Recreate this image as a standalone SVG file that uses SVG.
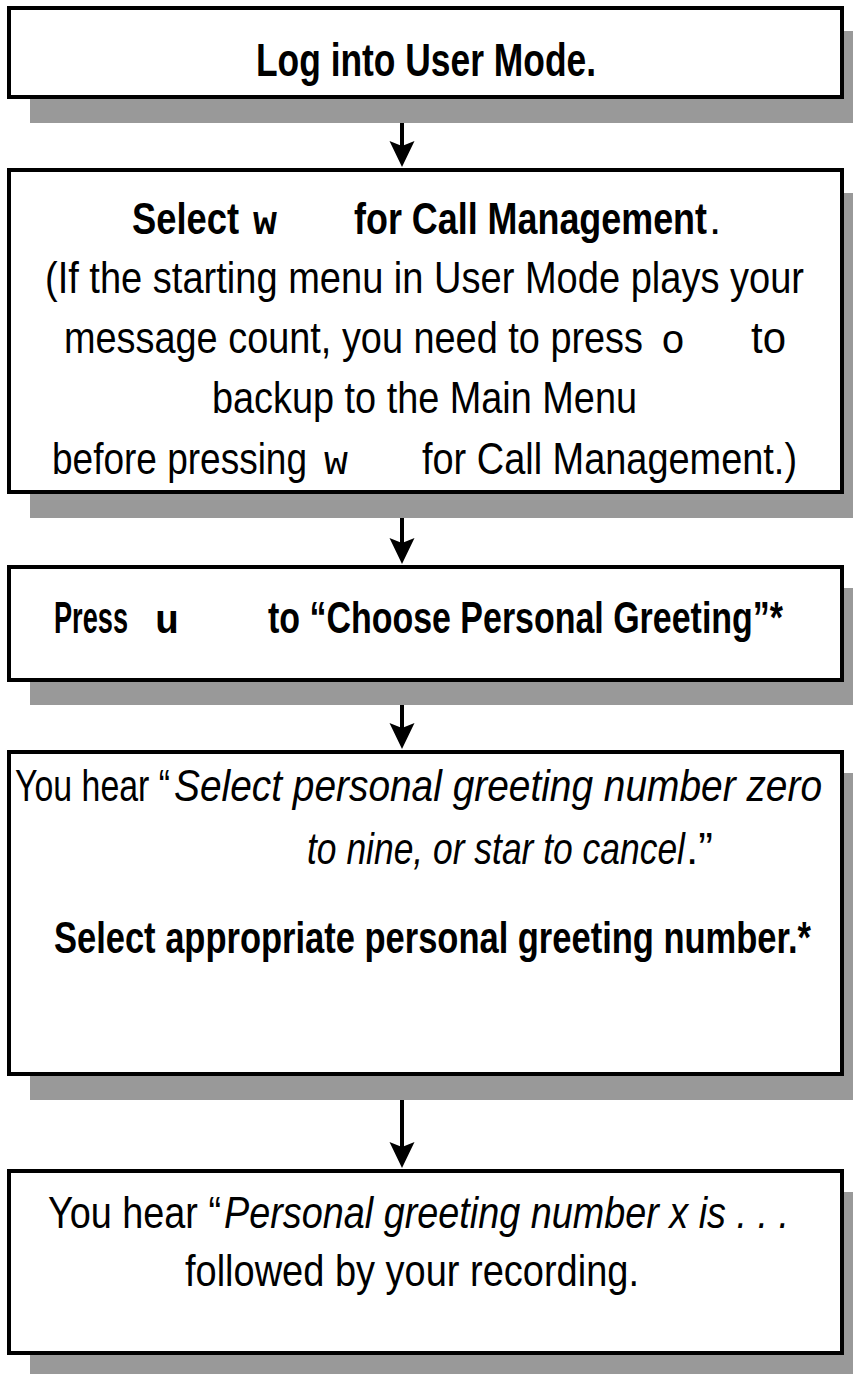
<svg xmlns="http://www.w3.org/2000/svg" width="853" height="1374" viewBox="0 0 853 1374">
<style>
.box{fill:#fff;stroke:#000;stroke-width:4}
.sh{fill:#999}
.t{font-family:"Liberation Sans Narrow","Arial Narrow","Liberation Sans",Arial,sans-serif;font-size:44px;fill:#000}
.h{font-size:47px}
.b{font-weight:bold}
.i{font-style:italic}
.m{font-family:"Liberation Mono","Courier New",monospace;font-size:40px;fill:#000}
.ln{stroke:#000;stroke-width:4;fill:none}
</style>
<defs>
<path id="ah" d="M0,0 L-12.5,-26 L0,-21 L12.5,-26 Z" fill="#000"/>
</defs>
<rect width="853" height="1374" fill="#fff"/>
<g id="n1">
<rect class="sh" x="30" y="31" width="840" height="92"/>
<rect class="box" x="9" y="8" width="833" height="89"/>
<text class="t h b" x="256" y="76" textLength="340" lengthAdjust="spacingAndGlyphs">Log into User Mode.</text>
</g>
<g id="n2">
<rect class="sh" x="30" y="193" width="840" height="325"/>
<rect class="box" x="9" y="170" width="833" height="322"/>
<text class="t b" x="132" y="234" textLength="107" lengthAdjust="spacingAndGlyphs">Select</text>
<text class="m b" x="253" y="234">w</text>
<text class="t b" x="354" y="234" textLength="353" lengthAdjust="spacingAndGlyphs">for Call Management</text>
<text class="t" x="709" y="234">.</text>
<text class="t" x="45" y="293" textLength="759" lengthAdjust="spacingAndGlyphs">(If the starting menu in User Mode plays your</text>
<text class="t" x="64" y="353" textLength="579" lengthAdjust="spacingAndGlyphs">message count, you need to press</text>
<text class="m" x="661" y="353">o</text>
<text class="t" x="751" y="353" textLength="35" lengthAdjust="spacingAndGlyphs">to</text>
<text class="t" x="212" y="413" textLength="425" lengthAdjust="spacingAndGlyphs">backup to the Main Menu</text>
<text class="t" x="52" y="474" textLength="255" lengthAdjust="spacingAndGlyphs">before pressing</text>
<text class="m" x="324" y="474">w</text>
<text class="t" x="422" y="474" textLength="375" lengthAdjust="spacingAndGlyphs">for Call Management.)</text>
</g>
<g id="n3">
<rect class="sh" x="30" y="588" width="840" height="117"/>
<rect class="box" x="9" y="567" width="833" height="113"/>
<text class="t b" x="54" y="633" textLength="74" lengthAdjust="spacingAndGlyphs">Press</text>
<text class="m b" x="155" y="633">u</text>
<text class="t b" x="268" y="633" textLength="515" lengthAdjust="spacingAndGlyphs">to “Choose Personal Greeting”*</text>
</g>
<g id="n4">
<rect class="sh" x="30" y="773" width="840" height="327"/>
<rect class="box" x="9" y="752" width="833" height="322"/>
<text class="t" x="15" y="801" textLength="155" lengthAdjust="spacingAndGlyphs">You hear “</text>
<text class="t i" x="174" y="801" textLength="648" lengthAdjust="spacingAndGlyphs">Select personal greeting number zero</text>
<text class="t i" x="307" y="864" textLength="378" lengthAdjust="spacingAndGlyphs">to nine, or star to cancel</text>
<text class="t" x="686" y="864">.”</text>
<text class="t b" x="54" y="953" textLength="757" lengthAdjust="spacingAndGlyphs">Select appropriate personal greeting number.*</text>
</g>
<g id="n5">
<rect class="sh" x="30" y="1192" width="840" height="190"/>
<rect class="box" x="9" y="1171" width="833" height="182"/>
<text class="t" x="48" y="1228" textLength="173" lengthAdjust="spacingAndGlyphs">You hear “</text>
<text class="t i" x="224" y="1228" textLength="565" lengthAdjust="spacingAndGlyphs">Personal greeting number x is . . .</text>
<text class="t" x="185" y="1286" textLength="454" lengthAdjust="spacingAndGlyphs">followed by your recording.</text>
</g>
<g id="connectors">
<line class="ln" x1="402" y1="123" x2="402" y2="150"/>
<use href="#ah" x="402" y="167"/>
<line class="ln" x1="402" y1="518" x2="402" y2="548"/>
<use href="#ah" x="402" y="564"/>
<line class="ln" x1="402" y1="705" x2="402" y2="733"/>
<use href="#ah" x="402" y="749"/>
<line class="ln" x1="402" y1="1100" x2="402" y2="1152"/>
<use href="#ah" x="402" y="1168"/>
</g>
</svg>
